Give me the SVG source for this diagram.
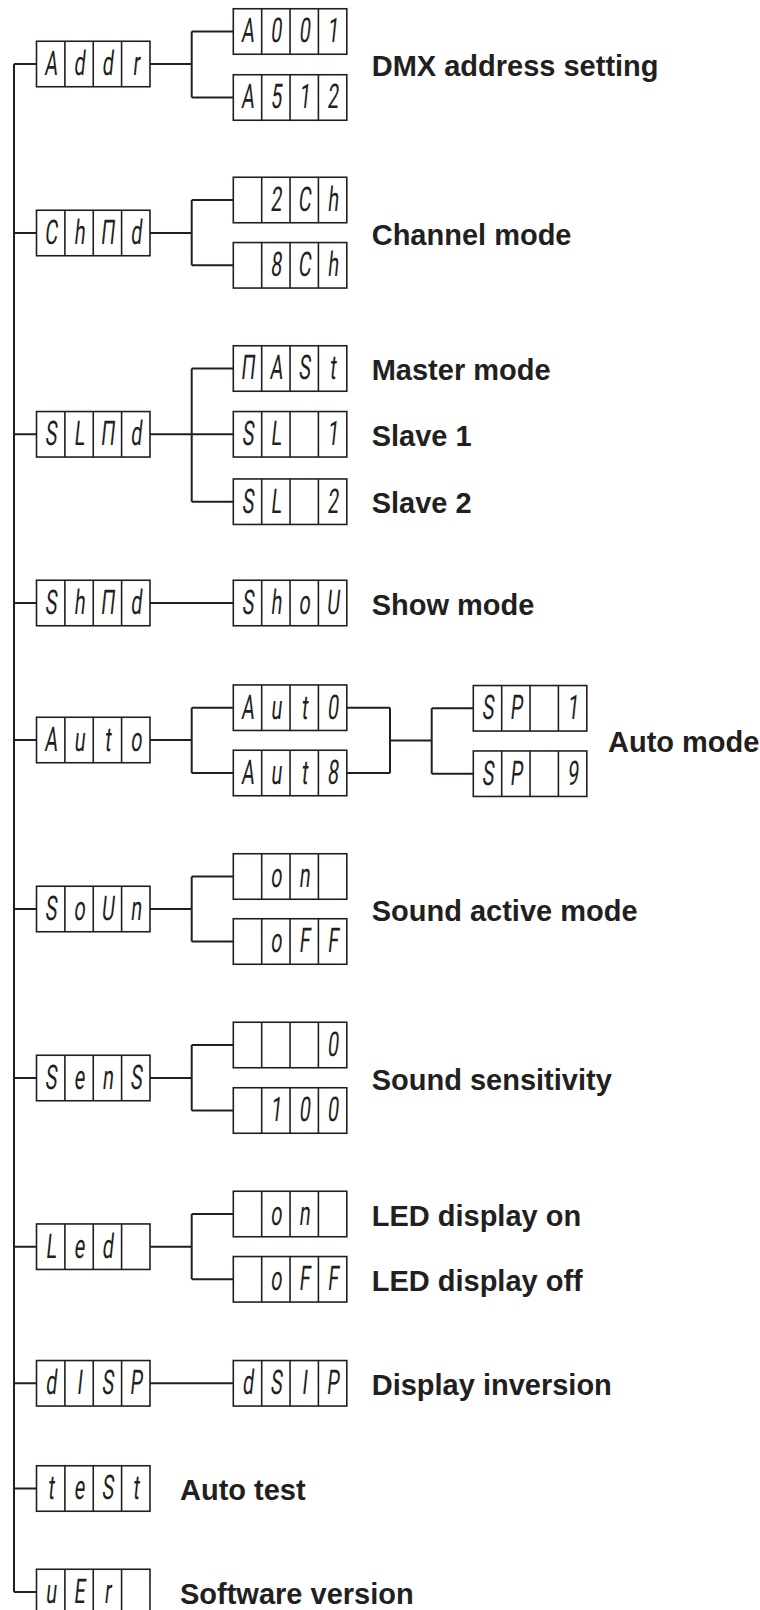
<svg xmlns="http://www.w3.org/2000/svg" xmlns:xlink="http://www.w3.org/1999/xlink" width="760" height="1610" viewBox="0 0 760 1610">
<style>
.bx{fill:#fff;stroke:#231f20;stroke-width:1.6}
.cn{fill:none;stroke:#231f20;stroke-width:2}
.gl{font-family:Roboto,"Liberation Sans",sans-serif;font-weight:400;font-size:34px;fill:#231f20;text-anchor:middle}
.lb{font-family:"Liberation Sans",Arial,sans-serif;font-weight:bold;font-size:29px;fill:#231f20}
</style>
<defs>
<g id="d"><rect class="bx" x="0" y="0" width="113.5" height="45.5"/><path class="bx" d="M28.4 0V45.5M56.75 0V45.5M85.1 0V45.5"/></g>
</defs>
<rect width="760" height="1610" fill="#fff"/>
<g id="connectors" class="cn">
<path d="M14 64V1592M14 64H36.5M14 233H36.5M14 434.3H36.5M14 603H36.5M14 740H36.5M14 909H36.5M14 1078H36.5M14 1246.7H36.5M14 1383.3H36.5M14 1488.5H36.5M14 1592H36.5"/>
<path d="M150 64H191.7M191.7 31.5V97.5M191.7 31.5H233.3M191.7 97.5H233.3"/>
<path d="M150 233H191.7M191.7 200V265.3M191.7 200H233.3M191.7 265.3H233.3"/>
<path d="M150 434.3H233.3M191.7 368.5V501.7M191.7 368.5H233.3M191.7 501.7H233.3"/>
<path d="M150 603H233.3"/>
<path d="M150 740H191.7M191.7 707.7V773M191.7 707.7H233.3M191.7 773H233.3"/>
<path d="M346.8 707.7H390M346.8 773H390M390 707.7V773M390 740.5H431.7M431.7 708.3V773.7M431.7 708.3H473.3M431.7 773.7H473.3"/>
<path d="M150 909H191.7M191.7 876.5V941.5M191.7 876.5H233.3M191.7 941.5H233.3"/>
<path d="M150 1078H191.7M191.7 1045V1110.5M191.7 1045H233.3M191.7 1110.5H233.3"/>
<path d="M150 1246.7H191.7M191.7 1214V1279.3M191.7 1214H233.3M191.7 1279.3H233.3"/>
<path d="M150 1383.3H233.3"/>
</g>
<g id="n-addr" transform="translate(36.5 41.25)"><use xlink:href="#d"/><g class="gl" transform="translate(0 33.7) skewX(-6) scale(.58 1)"><text x="24.5">A</text><text x="73.4">d</text><text x="122.2">d</text><text x="171.2">r</text></g></g>
<g id="n-a001" transform="translate(233.3 8.75)"><use xlink:href="#d"/><g class="gl" transform="translate(0 33.7) skewX(-6) scale(.58 1)"><text x="24.5">A</text><text x="73.4">0</text><text x="122.2">0</text><text x="171.2">1</text></g></g>
<g id="n-a512" transform="translate(233.3 74.75)"><use xlink:href="#d"/><g class="gl" transform="translate(0 33.7) skewX(-6) scale(.58 1)"><text x="24.5">A</text><text x="73.4">5</text><text x="122.2">1</text><text x="171.2">2</text></g></g>
<g id="n-chnd" transform="translate(36.5 210.25)"><use xlink:href="#d"/><g class="gl" transform="translate(0 33.7) skewX(-6) scale(.58 1)"><text x="24.5">C</text><text x="73.4">h</text><text x="122.2">Π</text><text x="171.2">d</text></g></g>
<g id="n-2ch" transform="translate(233.3 177.25)"><use xlink:href="#d"/><g class="gl" transform="translate(0 33.7) skewX(-6) scale(.58 1)"><text x="73.4">2</text><text x="122.2">C</text><text x="171.2">h</text></g></g>
<g id="n-8ch" transform="translate(233.3 242.55)"><use xlink:href="#d"/><g class="gl" transform="translate(0 33.7) skewX(-6) scale(.58 1)"><text x="73.4">8</text><text x="122.2">C</text><text x="171.2">h</text></g></g>
<g id="n-slnd" transform="translate(36.5 411.55)"><use xlink:href="#d"/><g class="gl" transform="translate(0 33.7) skewX(-6) scale(.58 1)"><text x="24.5">S</text><text x="73.4">L</text><text x="122.2">Π</text><text x="171.2">d</text></g></g>
<g id="n-mast" transform="translate(233.3 345.75)"><use xlink:href="#d"/><g class="gl" transform="translate(0 33.7) skewX(-6) scale(.58 1)"><text x="24.5">Π</text><text x="73.4">A</text><text x="122.2">S</text><text x="171.2">t</text></g></g>
<g id="n-sl1" transform="translate(233.3 411.55)"><use xlink:href="#d"/><g class="gl" transform="translate(0 33.7) skewX(-6) scale(.58 1)"><text x="24.5">S</text><text x="73.4">L</text><text x="171.2">1</text></g></g>
<g id="n-sl2" transform="translate(233.3 478.95)"><use xlink:href="#d"/><g class="gl" transform="translate(0 33.7) skewX(-6) scale(.58 1)"><text x="24.5">S</text><text x="73.4">L</text><text x="171.2">2</text></g></g>
<g id="n-shnd" transform="translate(36.5 580.25)"><use xlink:href="#d"/><g class="gl" transform="translate(0 33.7) skewX(-6) scale(.58 1)"><text x="24.5">S</text><text x="73.4">h</text><text x="122.2">Π</text><text x="171.2">d</text></g></g>
<g id="n-show" transform="translate(233.3 580.25)"><use xlink:href="#d"/><g class="gl" transform="translate(0 33.7) skewX(-6) scale(.58 1)"><text x="24.5">S</text><text x="73.4">h</text><text x="122.2">o</text><text x="171.2">U</text></g></g>
<g id="n-auto" transform="translate(36.5 717.25)"><use xlink:href="#d"/><g class="gl" transform="translate(0 33.7) skewX(-6) scale(.58 1)"><text x="24.5">A</text><text x="73.4">u</text><text x="122.2">t</text><text x="171.2">o</text></g></g>
<g id="n-auto-sub" transform="translate(233.3 684.95)"><use xlink:href="#d"/><g class="gl" transform="translate(0 33.7) skewX(-6) scale(.58 1)"><text x="24.5">A</text><text x="73.4">u</text><text x="122.2">t</text><text x="171.2">0</text></g></g>
<g id="n-aut8" transform="translate(233.3 750.25)"><use xlink:href="#d"/><g class="gl" transform="translate(0 33.7) skewX(-6) scale(.58 1)"><text x="24.5">A</text><text x="73.4">u</text><text x="122.2">t</text><text x="171.2">8</text></g></g>
<g id="n-sp1" transform="translate(473.3 685.55)"><use xlink:href="#d"/><g class="gl" transform="translate(0 33.7) skewX(-6) scale(.58 1)"><text x="24.5">S</text><text x="73.4">P</text><text x="171.2">1</text></g></g>
<g id="n-sp9" transform="translate(473.3 750.95)"><use xlink:href="#d"/><g class="gl" transform="translate(0 33.7) skewX(-6) scale(.58 1)"><text x="24.5">S</text><text x="73.4">P</text><text x="171.2">9</text></g></g>
<g id="n-soun" transform="translate(36.5 886.25)"><use xlink:href="#d"/><g class="gl" transform="translate(0 33.7) skewX(-6) scale(.58 1)"><text x="24.5">S</text><text x="73.4">o</text><text x="122.2">U</text><text x="171.2">n</text></g></g>
<g id="n-son" transform="translate(233.3 853.75)"><use xlink:href="#d"/><g class="gl" transform="translate(0 33.7) skewX(-6) scale(.58 1)"><text x="73.4">o</text><text x="122.2">n</text></g></g>
<g id="n-soff" transform="translate(233.3 918.75)"><use xlink:href="#d"/><g class="gl" transform="translate(0 33.7) skewX(-6) scale(.58 1)"><text x="73.4">o</text><text x="122.2">F</text><text x="171.2">F</text></g></g>
<g id="n-sens" transform="translate(36.5 1055.25)"><use xlink:href="#d"/><g class="gl" transform="translate(0 33.7) skewX(-6) scale(.58 1)"><text x="24.5">S</text><text x="73.4">e</text><text x="122.2">n</text><text x="171.2">S</text></g></g>
<g id="n-s0" transform="translate(233.3 1022.25)"><use xlink:href="#d"/><g class="gl" transform="translate(0 33.7) skewX(-6) scale(.58 1)"><text x="171.2">0</text></g></g>
<g id="n-s100" transform="translate(233.3 1087.75)"><use xlink:href="#d"/><g class="gl" transform="translate(0 33.7) skewX(-6) scale(.58 1)"><text x="73.4">1</text><text x="122.2">0</text><text x="171.2">0</text></g></g>
<g id="n-led" transform="translate(36.5 1223.95)"><use xlink:href="#d"/><g class="gl" transform="translate(0 33.7) skewX(-6) scale(.58 1)"><text x="24.5">L</text><text x="73.4">e</text><text x="122.2">d</text></g></g>
<g id="n-lon" transform="translate(233.3 1191.25)"><use xlink:href="#d"/><g class="gl" transform="translate(0 33.7) skewX(-6) scale(.58 1)"><text x="73.4">o</text><text x="122.2">n</text></g></g>
<g id="n-loff" transform="translate(233.3 1256.55)"><use xlink:href="#d"/><g class="gl" transform="translate(0 33.7) skewX(-6) scale(.58 1)"><text x="73.4">o</text><text x="122.2">F</text><text x="171.2">F</text></g></g>
<g id="n-disp" transform="translate(36.5 1360.55)"><use xlink:href="#d"/><g class="gl" transform="translate(0 33.7) skewX(-6) scale(.58 1)"><text x="24.5">d</text><text x="73.4">I</text><text x="122.2">S</text><text x="171.2">P</text></g></g>
<g id="n-dsip" transform="translate(233.3 1360.55)"><use xlink:href="#d"/><g class="gl" transform="translate(0 33.7) skewX(-6) scale(.58 1)"><text x="24.5">d</text><text x="73.4">S</text><text x="122.2">I</text><text x="171.2">P</text></g></g>
<g id="n-test" transform="translate(36.5 1465.75)"><use xlink:href="#d"/><g class="gl" transform="translate(0 33.7) skewX(-6) scale(.58 1)"><text x="24.5">t</text><text x="73.4">e</text><text x="122.2">S</text><text x="171.2">t</text></g></g>
<g id="n-ver" transform="translate(36.5 1569.25)"><use xlink:href="#d"/><g class="gl" transform="translate(0 33.7) skewX(-6) scale(.58 1)"><text x="24.5">u</text><text x="73.4">E</text><text x="122.2">r</text></g></g>
<g id="labels" class="lb">
<text x="371.7" y="75.5">DMX address setting</text>
<text x="371.7" y="244.5">Channel mode</text>
<text x="371.7" y="380">Master mode</text>
<text x="371.7" y="445.8">Slave 1</text>
<text x="371.7" y="513.2">Slave 2</text>
<text x="371.7" y="614.5">Show mode</text>
<text x="608" y="751.5">Auto mode</text>
<text x="371.7" y="920.5">Sound active mode</text>
<text x="371.7" y="1089.5">Sound sensitivity</text>
<text x="371.7" y="1225.5">LED display on</text>
<text x="371.7" y="1290.8">LED display off</text>
<text x="371.7" y="1394.8">Display inversion</text>
<text x="180" y="1500">Auto test</text>
<text x="180" y="1603.5">Software version</text>
</g>
</svg>
